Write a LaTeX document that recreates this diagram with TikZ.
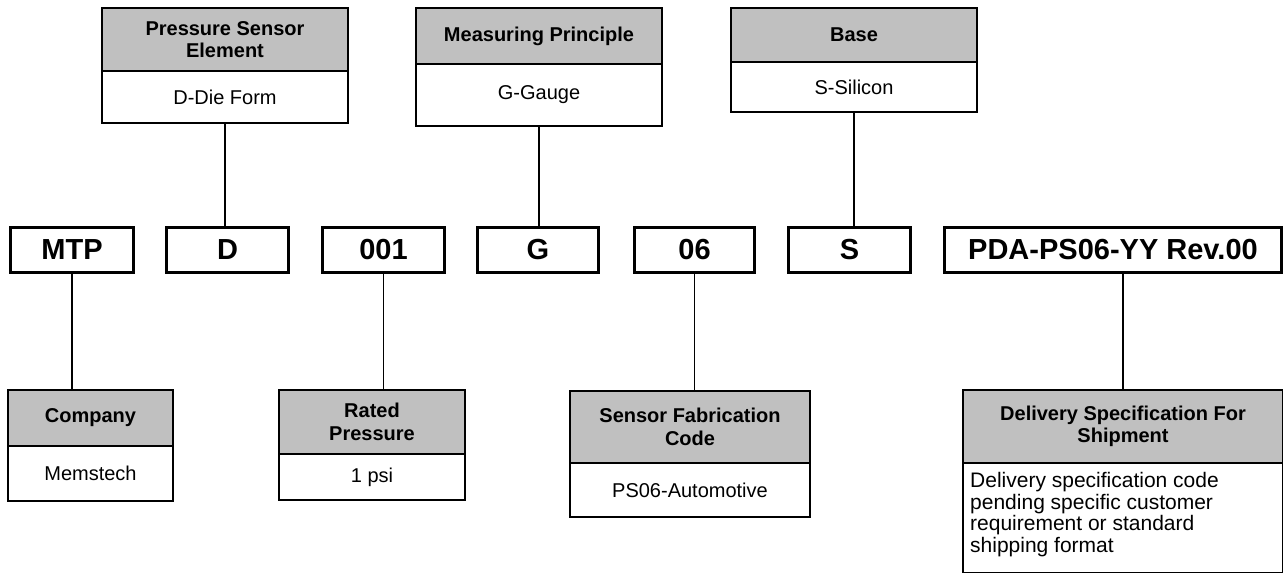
\documentclass[tikz,border=0pt]{standalone}
\usepackage{fontspec}
\setmainfont{Liberation Sans}
\definecolor{hdrgray}{HTML}{C0C0C0}
\begin{document}
\begin{tikzpicture}[x=1pt,y=-1pt,
  hdr/.style={draw, line width=2pt, fill=hdrgray, anchor=north west, inner sep=0pt,
    align=center, font=\bfseries\fontsize{20}{22.5}\selectfont},
  bodybox/.style={draw, line width=2pt, fill=white, anchor=north west, inner sep=0pt,
    align=center, font=\fontsize{20}{21.7}\selectfont},
  bodytext/.style={anchor=north west, inner sep=0pt, align=left,
    font=\fontsize{21}{21.7}\selectfont},
  codebox/.style={draw, line width=3pt, anchor=north west, inner sep=0pt,
    font=\bfseries\fontsize{29}{32}\selectfont},
  link/.style={line width=1.5pt}]
\useasboundingbox (0,0) rectangle (1283,573);

% ---- part-number fields ----
\node[codebox, minimum width=123pt, minimum height=45pt] (mtp) at (9,226)   {MTP};
\node[codebox, minimum width=122pt, minimum height=45pt] (d)   at (165,226) {D};
\node[codebox, minimum width=122pt, minimum height=45pt] (p)   at (321,226) {001};
\node[codebox, minimum width=121pt, minimum height=45pt] (g)   at (476,226) {G};
\node[codebox, minimum width=120pt, minimum height=45pt] (fab) at (633,226) {06};
\node[codebox, minimum width=122pt, minimum height=45pt] (s)   at (787,226) {S};
\node[codebox, minimum width=337pt, minimum height=45pt] (del) at (943,226) {PDA-PS06-YY Rev.00};

% ---- upper legends ----
\node[hdr, minimum width=246pt, minimum height=63pt] (pseh) at (101,7) {Pressure Sensor\\Element};
\node[bodybox, minimum width=246pt, minimum height=52pt] (pseb) at (101,70) {D-Die Form};

\node[hdr, minimum width=246pt, minimum height=56pt] (mph) at (415,7) {Measuring Principle};
\node[bodybox, minimum width=246pt, minimum height=62pt] (mpb) at (415,63) {G-Gauge};

\node[hdr, minimum width=246pt, minimum height=54pt] (bah) at (730,7) {Base};
\node[bodybox, minimum width=246pt, minimum height=50pt] (bab) at (730,61) {S-Silicon};

% ---- lower legends ----
\node[hdr, minimum width=165pt, minimum height=56pt] (coh) at (7,389) {Company};
\node[bodybox, minimum width=165pt, minimum height=55pt] (cob) at (7,445) {Memstech};

\node[hdr, minimum width=186pt, minimum height=64pt] (rph) at (278,389) {Rated\\Pressure};
\node[bodybox, minimum width=186pt, minimum height=46pt] (rpb) at (278,453) {1 psi};

\node[hdr, minimum width=240pt, minimum height=72pt] (sfh) at (569,390) {Sensor Fabrication\\Code};
\node[bodybox, minimum width=240pt, minimum height=54pt] (sfb) at (569,462) {PS06-Automotive};

\node[hdr, minimum width=320pt, minimum height=73pt] (dsh) at (962,389) {Delivery Specification For\\Shipment};
\node[bodybox, minimum width=320pt, minimum height=110pt] (dsb) at (962,462) {};
\node[bodytext] (dstx) at (970,472)
  {Delivery specification code\\pending specific customer\\requirement or standard\\shipping format};

% ---- connectors ----
\draw[link] (pseb.south) -- (pseb.south |- d.north);
\draw[link] (mpb.south) -- (mpb.south |- g.north);
\draw[link] (bab.south) -- (bab.south |- s.north);
\draw[link] (mtp.south) -- (mtp.south |- coh.north);
\draw[link] (p.south) -- (p.south |- rph.north);
\draw[link] (fab.south) -- (fab.south |- sfh.north);
\draw[link] (dsh.north) -- (dsh.north |- del.south);
\end{tikzpicture}
\end{document}
